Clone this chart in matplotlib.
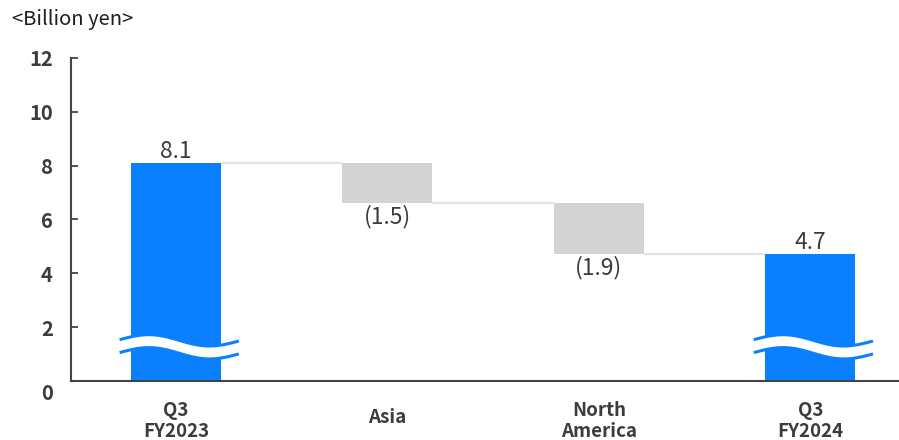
import numpy as np
import matplotlib.pyplot as plt
from matplotlib.transforms import blended_transform_factory

plt.rcParams['font.family'] = ['Noto Sans CJK JP', 'DejaVu Sans']

# data
categories = ["Q3\nFY2023", "Asia", "North\nAmerica", "Q3\nFY2024"]
values = [8.1, -1.5, -1.9, 4.7]
value_labels = ["8.1", "(1.5)", "(1.9)", "4.7"]
is_total = [True, False, False, True]
y_ticks = [2, 4, 6, 8, 10, 12]

blue = '#0A80FF'
grey = '#D3D3D3'
line_col = '#E3E3E3'
text_col = '#3C3C3C'
axis_col = '#444444'

fig = plt.figure(figsize=(8.99, 4.40), dpi=100)
ax = fig.add_axes([71 / 899, 1 - 381 / 440, 828 / 899, 323 / 440])

x = np.arange(len(categories))
width = 0.426

# waterfall bottoms/heights
bottoms, heights = [], []
running = 0.0
for v, tot in zip(values, is_total):
    if tot:
        bottoms.append(0.0)
        heights.append(v)
        running = v
    else:
        bottoms.append(running + v)
        heights.append(-v)
        running = running + v

colors = [blue if t else grey for t in is_total]
ax.bar(x, heights, width=width, bottom=bottoms, color=colors, zorder=2)

# connector lines between bars
running = 0.0
levels = []
for v, tot in zip(values, is_total):
    running = v if tot else running + v
    levels.append(running)
for i in range(len(x) - 1):
    ax.plot([x[i] + width / 2, x[i + 1] - width / 2], [levels[i], levels[i]],
            color=line_col, lw=1.6, zorder=1, solid_capstyle='butt')

# value labels
for i, (b, h, lab) in enumerate(zip(bottoms, heights, value_labels)):
    if values[i] >= 0:
        ax.annotate(lab, (x[i], b + h), xytext=(0, 0), textcoords='offset points',
                    ha='center', va='bottom', fontsize=16.5, color=text_col)
    else:
        ax.annotate(lab, (x[i], b), xytext=(0, -1), textcoords='offset points',
                    ha='center', va='top', fontsize=16.5, color=text_col)

# break marks on total bars
t = np.linspace(0, 1, 100)
for i, tot in enumerate(is_total):
    if not tot:
        continue
    xs = x[i] - 0.26 + t * 0.55
    top = 1.55 + 0.19 * np.sin(2 * np.pi * t) - 0.08 * t
    bot = top - 0.48
    ax.fill_between(xs, bot, top, color='white', lw=0, zorder=3)
    ax.plot(xs, top, color=blue, lw=2.2, zorder=4)
    ax.plot(xs, bot, color=blue, lw=2.2, zorder=4)

ax.set_xlim(-0.497, 3.42)
ax.set_ylim(0, 12)

for s in ['top', 'right']:
    ax.spines[s].set_visible(False)
for s in ['left', 'bottom']:
    ax.spines[s].set_color(axis_col)
    ax.spines[s].set_linewidth(1.5)

ax.set_yticks(y_ticks)
ax.tick_params(axis='y', direction='in', length=5, width=1.3, color=axis_col,
               pad=13, labelsize=14.5, labelcolor=text_col)
for lab in ax.get_yticklabels():
    lab.set_fontweight('bold')
ax.annotate("0", (0, 0), xycoords=('axes fraction', 'data'), xytext=(-13, -9),
            textcoords='offset points', ha='right', va='center', fontsize=14.5,
            fontweight='bold', color=text_col)

ax.set_xticks([])
tr = blended_transform_factory(ax.transData, fig.transFigure)
for i, cat in enumerate(categories):
    ypos = 1 - 417 / 440 if '\n' not in cat else 1 - 421 / 440
    ax.text(x[i], ypos, cat, transform=tr, ha='center', va='center',
            fontsize=13.5, fontweight='bold', color=text_col, linespacing=1.1)

fig.text(12 / 899, 1 - 20 / 440, "<Billion yen>", ha='left', va='center',
         fontsize=14.5, color='#1E1E1E')

fig.savefig('out.png', dpi=100)
